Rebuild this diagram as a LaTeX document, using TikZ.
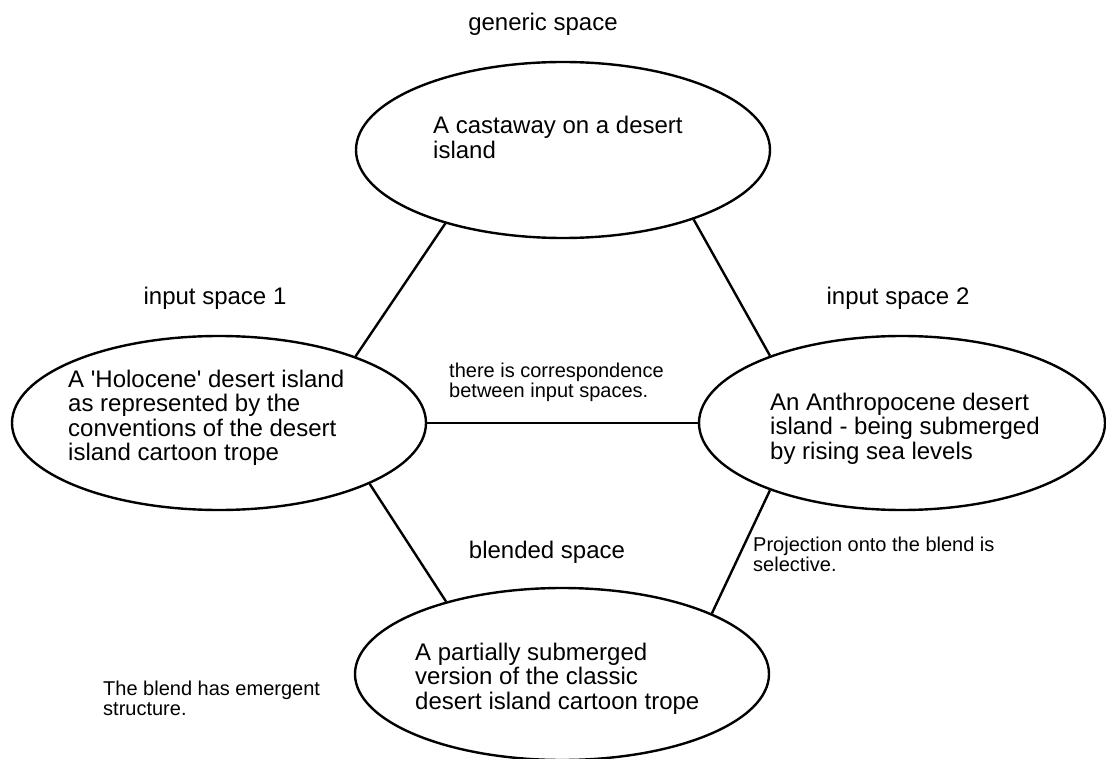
\documentclass[tikz,border=0pt]{standalone}
\usepackage{fontspec}
\setmainfont{Liberation Sans}
\usepackage{tikz}
\usetikzlibrary{
  shapes.geometric
}
\tikzset{
    spaceoval/.style={ellipse, draw=black, line width=2.4pt, inner sep=0pt, minimum width=414pt, minimum height=174pt},
    spacetext/.style={anchor=base west, align=left, inner sep=0pt, font=\fontsize{24}{24.5}\selectfont},
    spacetitle/.style={anchor=base, inner sep=0pt, font=\fontsize{24}{24.5}\selectfont},
    notetext/.style={anchor=base west, align=left, inner sep=0pt, font=\fontsize{20}{20.5}\selectfont},
    spacelink/.style={draw=black, line width=2.4pt}
}

\begin{document}
\begin{tikzpicture}[x=1pt, y=-1pt]
            \useasboundingbox (0,0) rectangle (1106,759);
            \node[spaceoval, minimum height=176pt] (generic) at (563,150) {};
            \node[spaceoval] (inputA) at (219,423) {};
            \node[spaceoval, minimum width=406pt] (inputB) at (902,423) {};
            \node[spaceoval, minimum height=172pt] (blend) at (562,674) {};

            \node[spacetitle] (genericTitle) at (543,31) {generic space};
            \node[spacetitle] (inputATitle) at (215,305) {input space 1};
            \node[spacetitle] (inputBTitle) at (898,305) {input space 2};
            \node[spacetitle] (blendTitle) at (547,558) {blended space};

            \node[spacetext] (genericText) at (433,158.5) {A castaway on a desert\\island};
            \node[spacetext] (inputAText) at (68,460.5) {A \textquotesingle Holocene\textquotesingle{} desert island\\as represented by the\\conventions of the desert\\island cartoon trope};
            \node[spacetext] (inputBText) at (770,459) {An Anthropocene desert\\island - being submerged\\by rising sea levels};
            \node[spacetext] (blendText) at (415,709) {A partially submerged\\version of the classic\\desert island cartoon trope};

            \node[notetext] (matchNote) at (449,397.5) {there is correspondence\\between input spaces.};
            \node[notetext] (projectNote) at (753,571.5) {Projection onto the blend is\\selective.};
            \node[notetext] (emergeNote) at (103,715.5) {The blend has emergent\\structure.};

            \draw[spacelink] (generic.212) -- (inputA.26);
            \draw[spacelink] (generic.332) -- (inputB.153);
            \draw[spacelink] (inputA.east) -- (inputB.west);
            \draw[spacelink] (inputA.338) -- (blend.148);
            \draw[spacelink] (inputB.207) -- (blend.22);
        \end{tikzpicture}
\end{document}
